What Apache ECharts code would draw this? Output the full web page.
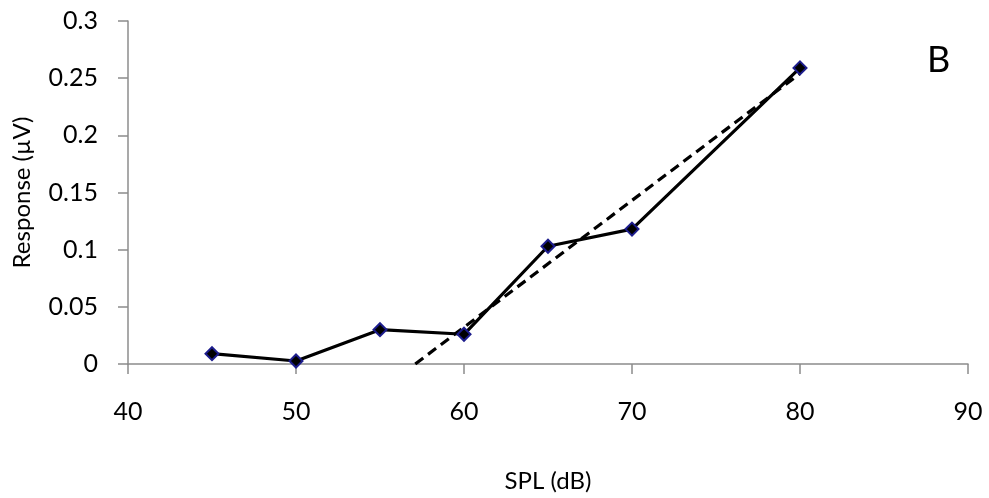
<!DOCTYPE html>
<html>
<head>
<meta charset="utf-8">
<script src="https://cdn.jsdelivr.net/npm/echarts@6/dist/echarts.min.js"></script>
<style>
  html, body { margin: 0; padding: 0; background: #fff; }
  #chart { width: 989px; height: 498px; }
</style>
</head>
<body>
<div id="chart"></div>
<script>
// measured SPL levels and responses
var splLevels = [45, 50, 55, 60, 65, 70, 80];
var responses = [0.009, 0.0026, 0.030, 0.026, 0.103, 0.118, 0.259];
// linear trend line endpoints (x, y)
var trendX = [57.1, 80];
var trendY = [0, 0.254];

var chart = echarts.init(document.getElementById('chart'));

var font = 'Lato, "Open Sans", sans-serif';
var axisGray = '#8c8c8c';

var option = {
    animation: false,
    grid: { left: 128, right: 21, top: 21, bottom: 127 },
    xAxis: {
        type: 'value',
        min: 40, max: 90, interval: 10,
        name: 'SPL (dB)',
        nameLocation: 'middle',
        nameGap: 105,
        nameTextStyle: { fontFamily: font, fontSize: 24, color: '#000' },
        axisLine: { lineStyle: { color: axisGray, width: 1.5 } },
        axisTick: { show: true, length: 10, lineStyle: { color: axisGray, width: 1.5 } },
        axisLabel: { fontFamily: font, fontSize: 25, color: '#000', margin: 35 },
        splitLine: { show: false }
    },
    yAxis: {
        type: 'value',
        min: 0, max: 0.3, interval: 0.05,
        name: 'Response (\u00b5V)',
        nameLocation: 'middle',
        nameGap: 94,
        nameTextStyle: { fontFamily: font, fontSize: 24, color: '#000' },
        axisLine: { show: true, lineStyle: { color: axisGray, width: 1.5 } },
        axisTick: { show: true, length: 10, lineStyle: { color: axisGray, width: 1.5 } },
        axisLabel: { fontFamily: font, fontSize: 25, color: '#000', margin: 30 },
        splitLine: { show: false }
    },
    graphic: [{
        type: 'text',
        left: 927, top: 42,
        style: { text: 'B', font: '36px ' + font, fill: '#000' }
    }],
    series: [{
        type: 'line',
        data: trendX.map(function (x, i) { return [x, trendY[i]]; }),
        symbol: 'none',
        lineStyle: { color: '#000', width: 3.2, type: [10, 6] },
        z: 2
    }, {
        type: 'line',
        data: splLevels.map(function (x, i) { return [x, responses[i]]; }),
        symbol: 'diamond',
        symbolSize: 13,
        itemStyle: { color: '#000', borderColor: '#1c1c8c', borderWidth: 2 },
        lineStyle: { color: '#000', width: 3.2 },
        z: 3
    }]
};

chart.setOption(option);
</script>
</body>
</html>
